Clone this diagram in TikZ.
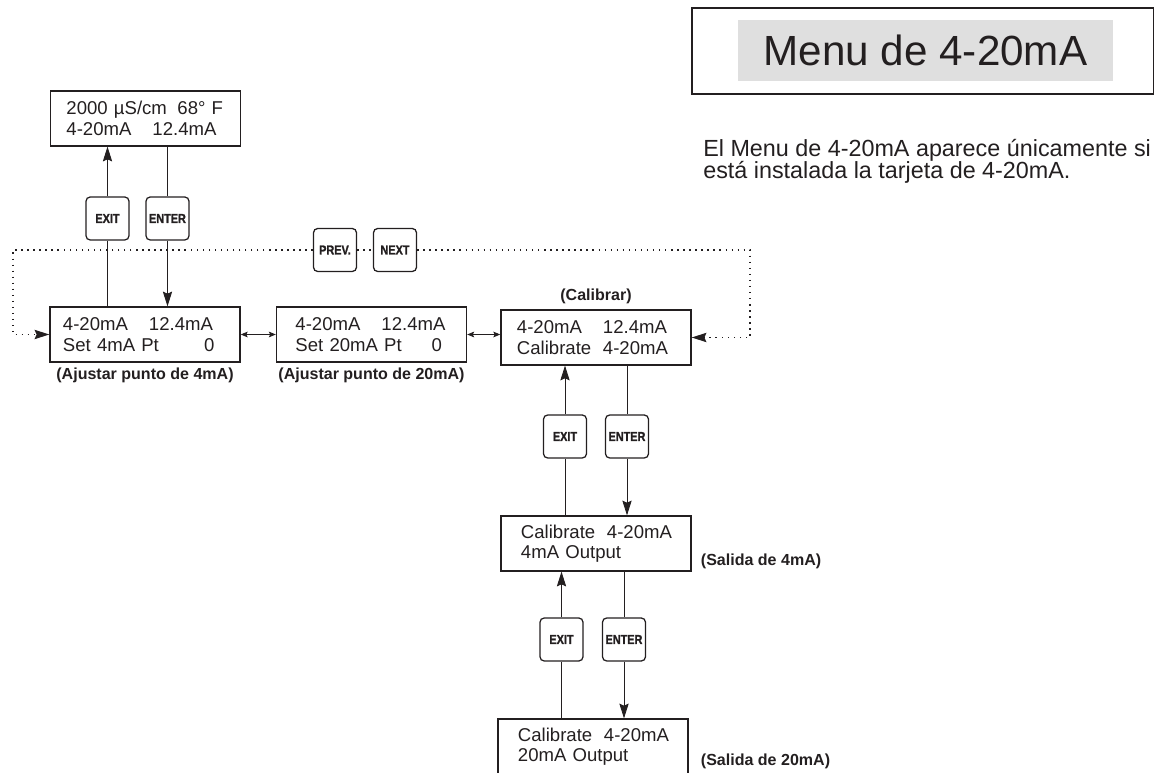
\documentclass[tikz,border=0pt]{standalone}
\usepackage{fontspec}
\setmainfont{Liberation Sans}
\newfontfamily\keyfont{Liberation Sans}[FakeBold=1.6]
\usepackage{xcolor}
\usepackage{graphicx}
\usepackage{tikz}
\usetikzlibrary{arrows.meta,positioning,calc}

\definecolor{ink}{HTML}{231F20}
\definecolor{titlegray}{HTML}{DFDFDF}

\newcommand{\lcdrow}[2]{\mbox{\makebox[2.15cm][l]{#1}#2}}
\newcommand{\keytext}[1]{\scalebox{0.84}[1]{\fontsize{9.2}{9.2}\keyfont\bfseries #1}}
\newcommand{\tightlines}{\fontsize{16.6}{15.6}\selectfont\setlength{\lineskiplimit}{-20pt}}

\tikzset{
  lcd/.style={draw=ink, line width=0.9pt, minimum width=4.75cm, minimum height=1.375cm,
    inner xsep=0.4cm, text width=3.95cm, align=left, text=ink,
    font=\fontsize{13.2}{14.6}\selectfont},
  key/.style={draw=ink, line width=0.9pt, rounded corners=3pt, minimum size=1.075cm,
    inner sep=0pt, text=ink},
  note/.style={font=\fontsize{11.4}{13}\selectfont\bfseries, inner sep=0pt, text=ink},
  wire/.style={draw=ink, line width=0.6pt},
  tip/.style={-{Stealth[length=10.5pt,width=6.6pt,inset=1.5pt]}},
  twotip/.style={{Stealth[length=5pt,width=4pt,inset=1pt]}-{Stealth[length=5pt,width=4pt,inset=1pt]}},
  scroll/.style={wire, line width=1pt, dash pattern=on 1pt off 3.3pt}
}

\begin{document}
\begin{tikzpicture}[x=0.025cm, y=-0.025cm]
    \useasboundingbox (0,0) rectangle (1159,773);
    \clip (0,0) rectangle (1159,773);

    % title and note
    \node[draw=ink, line width=0.8pt, minimum width=11.525cm, minimum height=2.15cm] (titlebox) at (922.5,51) {};
    \node[fill=titlegray, minimum width=9.375cm, minimum height=1.525cm, text=ink,
          font=\fontsize{30}{30}\selectfont] (title) at (925.5,50.5) {Menu de 4-20mA};
    \node[anchor=north west, align=left, inner sep=0pt, text=ink, font=\tightlines] (intro) at (703,139)
          {El Menu de 4-20mA aparece únicamente si\\está instalada la tarjeta de 4-20mA.};

    % displays
    \node[lcd] (home) at (145.5,118.5) {\makebox[2.775cm][l]{2000 µS/cm}68° F\\\lcdrow{4-20mA}{12.4mA}};
    \node[lcd, inner xsep=0.325cm, text width=4.1cm] (set4) at (145,334.5)
          {\lcdrow{4-20mA}{12.4mA}\\\makebox[3.525cm][l]{Set 4mA Pt}0};
    \node[lcd, inner xsep=0.475cm, text width=3.8cm] (set20) at (371.5,334.5)
          {\lcdrow{4-20mA}{12.4mA}\\\makebox[3.4cm][l]{Set 20mA Pt}0};
    \node[lcd] (cal) at (596,337.5) {\lcdrow{4-20mA}{12.4mA}\\\lcdrow{Calibrate}{4-20mA}};
    \node[lcd, inner xsep=0.5cm, text width=3.75cm] (out4) at (596,543.5)
          {\lcdrow{Calibrate}{4-20mA}\\4mA Output};
    \node[lcd, inner xsep=0.5cm, text width=3.75cm] (out20) at (593,746.5)
          {\lcdrow{Calibrate}{4-20mA}\\20mA Output};

    % captions
    \node[note, below=0.12cm of set4] (capset4) {(Ajustar punto de 4mA)};
    \node[note, below=0.12cm of set20] (capset20) {(Ajustar punto de 20mA)};
    \node[note, above=0.12cm of cal] (capcal) {(Calibrar)};
    \node[note, anchor=west] (capout4) at ($(out4.south east)+(9,-10)$) {(Salida de 4mA)};
    \node[note, anchor=west] (capout20) at ($(out20.south east)+(12,-13)$) {(Salida de 20mA)};

    % keys
    \node[key] (exitA) at (107.5,218.5) {\keytext{EXIT}};
    \node[key] (enterA) at (167.5,218.5) {\keytext{ENTER}};
    \node[key] (prev) at (335,250) {\keytext{PREV.}};
    \node[key] (next) at (395,250) {\keytext{NEXT}};
    \node[key] (exitB) at (565,436.5) {\keytext{EXIT}};
    \node[key] (enterB) at (627,436.5) {\keytext{ENTER}};
    \node[key] (exitC) at (561.5,639.5) {\keytext{EXIT}};
    \node[key] (enterC) at (624,639.5) {\keytext{ENTER}};

    % up and down
    \draw[wire] (set4.north -| exitA) -- (exitA.south);
    \draw[wire, tip] (exitA.north) -- (home.south -| exitA);
    \draw[wire] (home.south -| enterA) -- (enterA.north);
    \draw[wire, tip] (enterA.south) -- (set4.north -| enterA);

    \draw[wire] (out4.north -| exitB) -- (exitB.south);
    \draw[wire, tip] (exitB.north) -- (cal.south -| exitB);
    \draw[wire] (cal.south -| enterB) -- (enterB.north);
    \draw[wire, tip] (enterB.south) -- (out4.north -| enterB);

    \draw[wire] (out20.north -| exitC) -- (exitC.south);
    \draw[wire, tip] (exitC.north) -- (out4.south -| exitC);
    \draw[wire] (out4.south -| enterC) -- (enterC.north);
    \draw[wire, tip] (enterC.south) -- (out20.north -| enterC);

    % sideways
    \draw[wire, twotip] (set4.east) -- (set20.west);
    \draw[wire, twotip] (set20.east) -- (set20.east -| cal.west);

    \coordinate (lturn) at (13,250);
    \coordinate (rturn) at (750,250);
    \draw[scroll, tip] (prev.west) -- (lturn) |- (set4.west);
    \draw[scroll] (prev.east) -- (next.west);
    \draw[scroll, tip] (next.east) -- (rturn) |- (cal.east);
\end{tikzpicture}
\end{document}
